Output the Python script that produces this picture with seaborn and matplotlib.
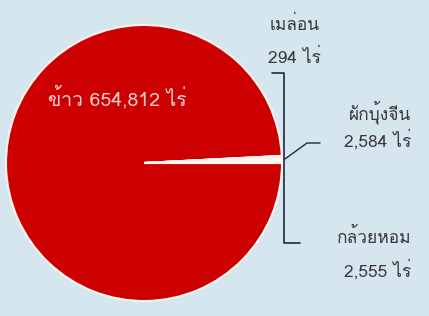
import matplotlib
matplotlib.use("Agg")
import matplotlib.pyplot as plt
from matplotlib import font_manager
from matplotlib.ft2font import FT2Font
import seaborn as sns

sns.set_theme(style="white")

# find any installed family that covers Thai script
thai_fams = []
for fe in font_manager.fontManager.ttflist:
    try:
        f = FT2Font(fe.fname)
        cm = f.get_charmap()
        if 0x0E01 in cm and 0x0E49 in cm and fe.name not in thai_fams:
            thai_fams.append(fe.name)
    except Exception:
        pass
known = ['Noto Sans Thai', 'Noto Sans Thai Looped', 'Noto Serif Thai', 'Loma', 'Garuda',
         'Waree', 'Tlwg Typo', 'Kinnari', 'Norasi', 'Sawasdee', 'Umpush', 'Laksaman']
families = thai_fams + [k for k in known if k not in thai_fams] + ['DejaVu Sans']
plt.rcParams['font.family'] = families

labels = ["ข้าว", "เมล่อน", "ผักบุ้งจีน", "กล้วยหอม"]
values = [654812, 294, 2584, 2555]
unit = "ไร่"

bg = "#d5e6ef"
fig = plt.figure(figsize=(4.29, 3.16), dpi=100, facecolor=bg)
ax = fig.add_axes([0, 0, 1, 1])
ax.set_facecolor(bg)

cx, cy, r = 144, 163, 138
ax.pie(values, colors=["#cc0000", "#fff4ee", "#fff4ee", "#fff4ee"], startangle=0,
       center=(cx, cy), radius=r, frame=True,
       wedgeprops=dict(edgecolor="#fff4ee", linewidth=1.5))
ax.set_xlim(0, 429)
ax.set_ylim(316, 0)
ax.set_aspect("equal")
ax.axis("off")

txt = "#383838"
fs = 12.5
ax.text(48, 97, f"{labels[0]} {values[0]:,} {unit}", color="#f8d0d0", fontsize=14,
        va="center", fontweight="medium")
ax.text(295, 25, labels[1], color=txt, fontsize=fs, ha="center", va="center", fontweight="medium")
ax.text(295, 58, f"{values[1]:,} {unit}", color=txt, fontsize=fs, ha="center", va="center", fontweight="medium")
ax.text(411, 112, labels[2], color=txt, fontsize=fs, ha="right", va="center", fontweight="medium")
ax.text(411, 140, f"{values[2]:,} {unit}", color=txt, fontsize=fs, ha="right", va="center", fontweight="medium")
ax.text(411, 237, labels[3], color=txt, fontsize=fs, ha="right", va="center", fontweight="medium")
ax.text(411, 270, f"{values[3]:,} {unit}", color=txt, fontsize=fs, ha="right", va="center", fontweight="medium")

ln = "#1c2a44"
ax.plot([272, 284, 284, 300], [73, 73, 243, 243], color=ln, lw=1.2)
ax.plot([285, 307, 320], [159, 143, 143], color=ln, lw=1.0)

fig.savefig("out.png", dpi=100, facecolor=bg)
